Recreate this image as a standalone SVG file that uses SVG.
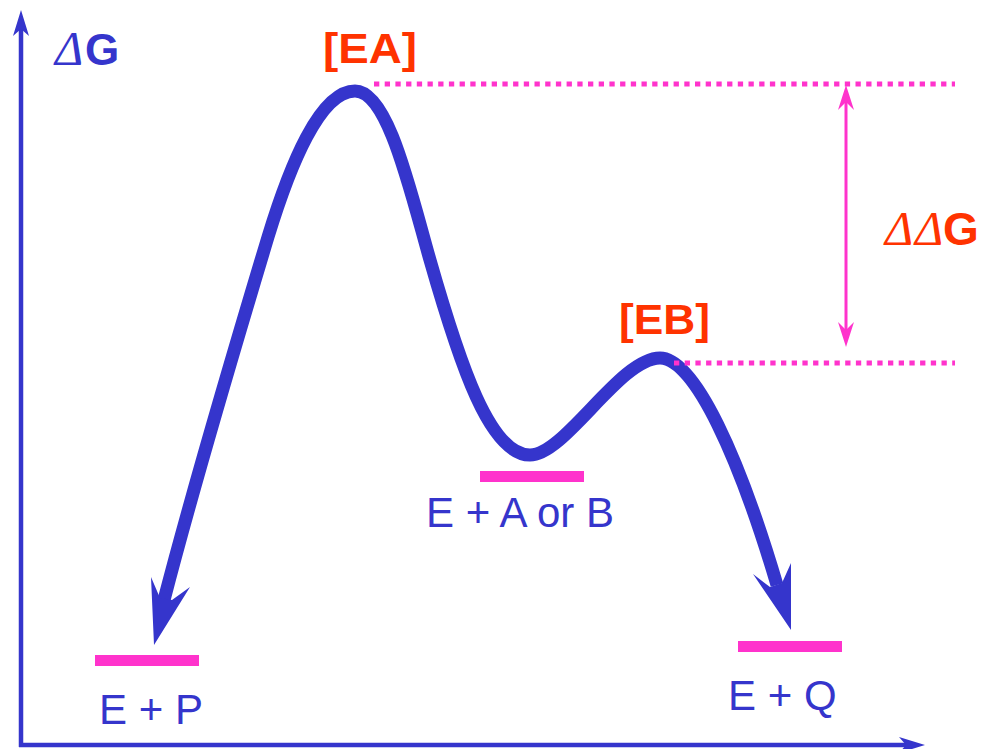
<svg xmlns="http://www.w3.org/2000/svg" width="994" height="749" viewBox="0 0 994 749">
<style>
.blue{fill:#3535cc}
.pink{fill:#ff33cc}
.lbl{font-family:"Liberation Sans",Arial,sans-serif;font-size:42px;fill:#3535cc}
.red{font-family:"Liberation Sans",Arial,sans-serif;font-weight:bold;font-size:43px;fill:#ff3300}
.delta{font-family:"Liberation Serif","Times New Roman",serif;font-style:italic;font-size:48px}
.dots{stroke:#ff33cc;stroke-width:5;stroke-dasharray:5.3 5.4;fill:none}
</style>
<rect width="994" height="749" fill="#ffffff"/>
<g id="axes">
<line x1="21" y1="747" x2="21" y2="28" stroke="#3535cc" stroke-width="4.5"/>
<polygon class="blue" points="21,10 13,36 21,29 29,36"/>
<line x1="19" y1="745" x2="906" y2="745" stroke="#3535cc" stroke-width="4.5"/>
<polygon class="blue" points="925,745 899,737 906,745 899,753"/>
</g>
<g id="label-dG">
<text class="delta" x="55" y="65" fill="#3535cc">Δ</text>
<text x="85" y="65" font-family="Liberation Sans,Arial,sans-serif" font-weight="bold" font-size="44" fill="#3535cc">G</text>
</g>
<g id="connectors">
<path d="M164,600 C190,500 240,330 268,237 C290,165 320,91 355,91 C388,91 410,190 430,260 C460,365 490,455 530,455 C565,455 620,358 660,358 C695,358 740,460 777,585" fill="none" stroke="#3535cc" stroke-width="13" stroke-linejoin="round"/>
<polygon class="blue" points="154,645 151,577 160,598 172,600 190,587"/>
<polygon class="blue" points="791,630 753,574 770,587 782,583 791,563"/>
<line class="dots" x1="374" y1="84" x2="955" y2="84"/>
<line class="dots" x1="674" y1="363" x2="955" y2="363"/>
<line x1="846" y1="100" x2="846" y2="332" stroke="#ff33cc" stroke-width="3"/>
<polygon class="pink" points="846,85 838,110 846,102 854,110"/>
<polygon class="pink" points="846,347 838,322 846,330 854,322"/>
</g>
<g id="node-EA">
<text class="red" x="323" y="63" textLength="94" lengthAdjust="spacingAndGlyphs">[EA]</text>
</g>
<g id="node-EB">
<text class="red" x="619" y="334" textLength="91" lengthAdjust="spacingAndGlyphs">[EB]</text>
</g>
<g id="label-ddG">
<text class="delta" x="885" y="245" fill="#ff3300">Δ</text>
<text class="delta" x="915" y="245" fill="#ff3300">Δ</text>
<text x="943" y="245" font-family="Liberation Sans,Arial,sans-serif" font-weight="bold" font-size="46" fill="#ff3300">G</text>
</g>
<g id="node-EP">
<rect class="pink" x="95" y="655" width="104" height="11"/>
<text class="lbl" x="99" y="724">E + P</text>
</g>
<g id="node-EAB">
<rect class="pink" x="480" y="471" width="104" height="11"/>
<text class="lbl" x="426" y="527">E + A or B</text>
</g>
<g id="node-EQ">
<rect class="pink" x="738" y="641" width="104" height="11"/>
<text class="lbl" x="728" y="710">E + Q</text>
</g>
</svg>
